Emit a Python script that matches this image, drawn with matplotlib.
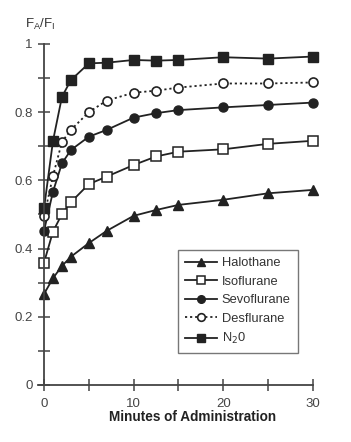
import matplotlib
matplotlib.use("Agg")
import matplotlib.pyplot as plt
from matplotlib.ticker import FixedLocator

plt.rcParams['font.family'] = ['Liberation Sans', 'DejaVu Sans']

minutes = [0, 1, 2, 3, 5, 7, 10, 12.5, 15, 20, 25, 30]
halothane = [0.267, 0.313, 0.349, 0.376, 0.416, 0.452, 0.496, 0.513, 0.528, 0.543, 0.562, 0.572]
isoflurane = [0.359, 0.450, 0.501, 0.536, 0.589, 0.611, 0.645, 0.670, 0.684, 0.691, 0.707, 0.716]
sevoflurane = [0.452, 0.567, 0.650, 0.689, 0.728, 0.748, 0.784, 0.797, 0.806, 0.814, 0.821, 0.828]
desflurane = [0.494, 0.613, 0.713, 0.748, 0.800, 0.834, 0.857, 0.863, 0.872, 0.884, 0.884, 0.887]
n2o = [0.518, 0.716, 0.845, 0.894, 0.943, 0.945, 0.953, 0.951, 0.953, 0.961, 0.957, 0.963]

labels = ['Halothane', 'Isoflurane', 'Sevoflurane', 'Desflurane', 'N$_2$0']
y_ticks = [0, 0.2, 0.4, 0.6, 0.8, 1]
y_ticklabels = ['0', '0.2', '0.4', '0.6', '0.8', '1']
x_ticks = [0, 5, 10, 15, 20, 25, 30]
x_ticklabels = ['0', '', '10', '', '20', '', '30']

W, H = 351, 442
fig = plt.figure(figsize=(W / 100, H / 100), dpi=100)
left_px, bottom_px = 30.6, 442 - 395.2
width_px, height_px = 295.7, 361.5
ax = fig.add_axes([left_px / W, bottom_px / H, width_px / W, height_px / H])
ax.set_xlim(-1.5, 31.5)
ax.set_ylim(-0.03, 1.03)

lc = '#222222'
common = dict(color=lc, lw=1.3, markeredgecolor=lc)
ax.plot(minutes, halothane, marker='^', ms=7, markerfacecolor=lc, label=labels[0], **common)
ax.plot(minutes, isoflurane, marker='s', ms=7, markerfacecolor='white', markeredgewidth=1.1, label=labels[1], **common)
ax.plot(minutes, sevoflurane, marker='o', ms=6.5, markerfacecolor=lc, label=labels[2], **common)
ax.plot(minutes, desflurane, marker='o', ms=6.5, markerfacecolor='white', markeredgewidth=1.2, ls=(0, (1.2, 1.6)), label=labels[3], **common)
ax.plot(minutes, n2o, marker='s', ms=7, markerfacecolor=lc, label=labels[4], **common)

for s in ['top', 'right']:
    ax.spines[s].set_visible(False)
ax.spines['left'].set_position(('data', 0))
ax.spines['bottom'].set_position(('data', 0))
ax.spines['left'].set_bounds(0, 1)
ax.spines['bottom'].set_bounds(-0.7, 30)
for s in ['left', 'bottom']:
    ax.spines[s].set_color('#444444')
    ax.spines[s].set_linewidth(1.3)

ax.yaxis.set_major_locator(FixedLocator(y_ticks))
ax.set_yticklabels(y_ticklabels)
ax.yaxis.set_minor_locator(FixedLocator([0.1, 0.3, 0.5, 0.7, 0.9]))
ax.xaxis.set_major_locator(FixedLocator(x_ticks))
ax.set_xticklabels(x_ticklabels)
ax.tick_params(axis='both', which='both', direction='inout', length=8.5, width=1.1,
               color='#444444', labelcolor='#444444', labelsize=9.5)
ax.tick_params(axis='x', pad=5)
ax.tick_params(axis='y', pad=4)

fig.text(40 / W, 1 - 24 / H, r'F$_\mathregular{A}$/F$_\mathregular{I}$', fontsize=9.5,
         color='#333333', ha='center', va='center')
fig.text(193 / W, 1 - 417 / H, 'Minutes of Administration', fontsize=9.8,
         fontweight='bold', color='#222222', ha='center', va='center')

leg = ax.legend(loc='upper left', bbox_to_anchor=((178 - left_px) / width_px, (395.2 - 250) / height_px),
                borderaxespad=0, fontsize=9.3,
                frameon=True, fancybox=False, edgecolor='#555555', handlelength=2.5,
                handletextpad=0.35, borderpad=0.55, labelspacing=0.5, labelcolor='#333333')
leg.get_frame().set_linewidth(1.0)
for h in leg.legend_handles:
    h.set_markersize(5.5)

fig.savefig('out.png', dpi=100, facecolor='white')
